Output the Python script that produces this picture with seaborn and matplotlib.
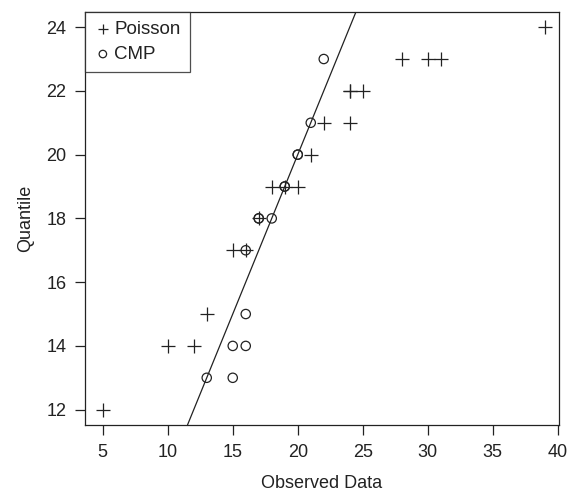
import numpy as np
import pandas as pd
import matplotlib
matplotlib.use("Agg")
import matplotlib.pyplot as plt
import seaborn as sns

# Poisson fit quantiles vs observed data
poisson_obs = [5, 10, 12, 13, 15, 16, 17, 18, 19, 20, 21, 22, 24, 24, 24, 25, 28, 30, 31, 39]
poisson_q = [12, 14, 14, 15, 17, 17, 18, 19, 19, 19, 20, 21, 21, 22, 22, 22, 23, 23, 23, 24]

# CMP fit quantiles vs observed data
cmp_obs = [13, 15, 15, 16, 16, 16, 17, 17, 18, 19, 19, 20, 20, 21, 22]
cmp_q = [13, 13, 14, 14, 15, 17, 18, 18, 18, 19, 19, 20, 20, 21, 23]

sns.set_style("ticks")
plt.rcParams['font.family'] = ['Liberation Sans', 'DejaVu Sans']
ink = "#222222"

fig = plt.figure(figsize=(5.67, 4.93), dpi=100)
ax = fig.add_axes([0.15, 0.138, 0.836, 0.838])

df_p = pd.DataFrame({"obs": poisson_obs, "q": poisson_q})
df_c = pd.DataFrame({"obs": cmp_obs, "q": cmp_q})

sns.scatterplot(data=df_p, x="obs", y="q", marker="+", s=95, color=ink,
                linewidth=0.9, ax=ax, label="Poisson", zorder=3)
sns.scatterplot(data=df_c, x="obs", y="q", marker="o", s=45, facecolor="none",
                edgecolor=ink, linewidth=0.9, ax=ax, label="CMP", zorder=3)

# identity line
ax.axline((0, 0), slope=1, color=ink, linewidth=0.9, zorder=2)

ax.set_xlim(3.64, 40.1)
ax.set_ylim(11.52, 24.48)
ax.set_xticks([5, 10, 15, 20, 25, 30, 35, 40])
ax.set_yticks([12, 14, 16, 18, 20, 22, 24])
ax.tick_params(axis="both", length=7.5, width=0.9, color=ink, labelcolor=ink,
               labelsize=13, pad=6)
for sp in ax.spines.values():
    sp.set_color(ink)
    sp.set_linewidth(0.9)
    sp.set_visible(True)

ax.set_xlabel("Observed Data", fontsize=13, color=ink, labelpad=10)
ax.set_ylabel("Quantile", fontsize=13, color=ink, labelpad=9)

leg = ax.legend(loc="upper left", borderaxespad=0, fontsize=13.5, frameon=True,
                fancybox=False, handletextpad=0.15, handlelength=0.9,
                borderpad=0.5, labelspacing=0.4, markerscale=0.8)
leg.get_frame().set_edgecolor(ink)
leg.get_frame().set_linewidth(0.9)
for t in leg.get_texts():
    t.set_color(ink)

fig.savefig("out.png", dpi=100)
